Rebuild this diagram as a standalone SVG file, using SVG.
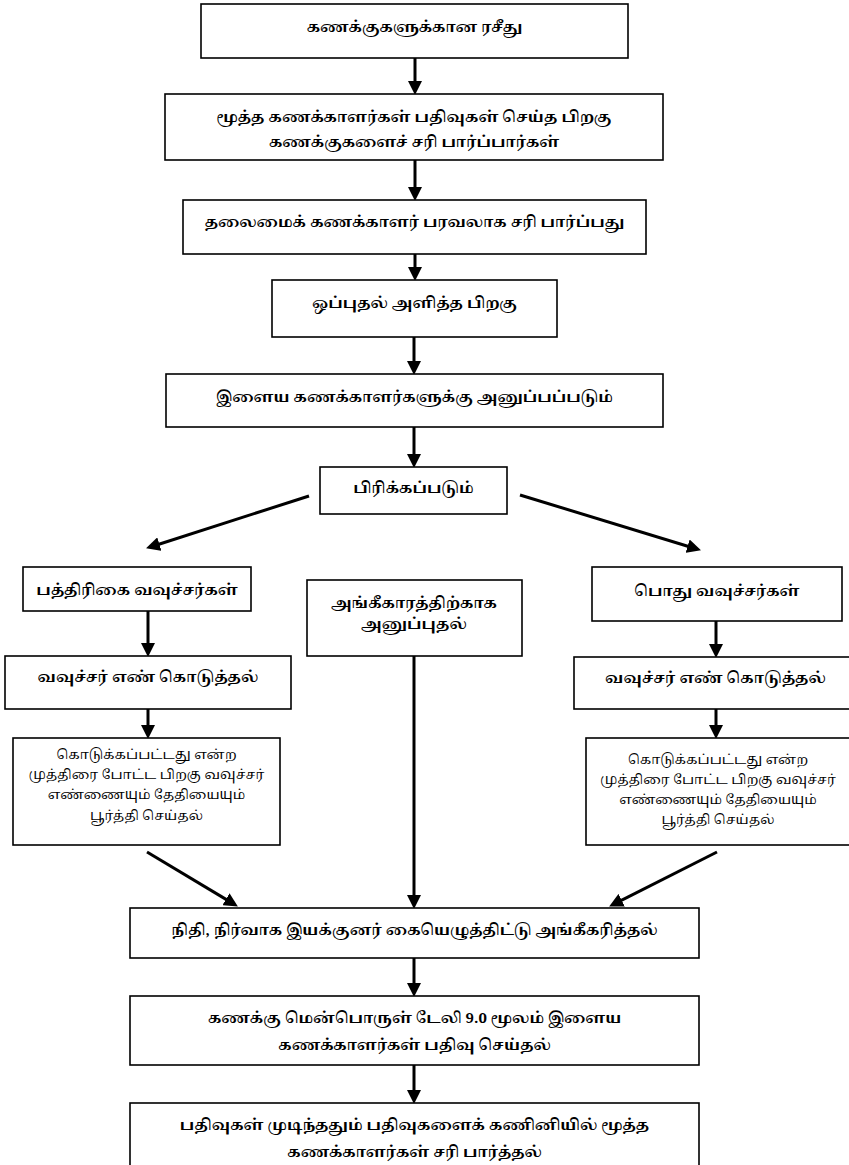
<svg xmlns="http://www.w3.org/2000/svg" width="849" height="1165" viewBox="0 0 849 1165">
<style>
.box{fill:#fff;stroke:#000;stroke-width:1.6}
.t{font-family:"Noto Serif Tamil","Noto Sans Tamil","Liberation Serif",serif;font-size:15px;font-weight:bold;fill:#000;text-anchor:middle}
.s{font-size:13.5px;font-weight:normal}
.c{stroke:#000;stroke-width:3;fill:none;marker-end:url(#ah)}
</style>
<defs>
<marker id="ah" markerUnits="userSpaceOnUse" markerWidth="14" markerHeight="14" refX="6" refY="6" orient="auto" viewBox="0 0 12 12">
<path d="M0,0 L12,6 L0,12 z" fill="#000"/>
</marker>
</defs>
<rect width="849" height="1165" fill="#fff"/>
<g id="connectors">
<line class="c" x1="415" y1="58" x2="415" y2="88"/>
<line class="c" x1="415" y1="160" x2="415" y2="194"/>
<line class="c" x1="415" y1="254" x2="415" y2="274"/>
<line class="c" x1="414" y1="337" x2="414" y2="368"/>
<line class="c" x1="414" y1="427" x2="414" y2="461"/>
<line class="c" x1="309" y1="496" x2="152.7" y2="546.2"/>
<line class="c" x1="520" y1="495" x2="694.3" y2="548.2"/>
<line class="c" x1="148" y1="611" x2="148" y2="650"/>
<line class="c" x1="148" y1="709" x2="148" y2="732"/>
<line class="c" x1="716" y1="621" x2="716" y2="651"/>
<line class="c" x1="716" y1="709" x2="716" y2="732"/>
<line class="c" x1="414" y1="656" x2="414" y2="902"/>
<line class="c" x1="147" y1="852" x2="231.9" y2="902.9"/>
<line class="c" x1="717" y1="852" x2="615.4" y2="903.3"/>
<line class="c" x1="414" y1="958" x2="414" y2="990"/>
<line class="c" x1="414" y1="1065" x2="414" y2="1097"/>
</g>
<g id="n1"><rect class="box" x="201" y="4" width="427" height="54"/><text class="t" x="414.5" y="32">கணக்குகளுக்கான ரசீது</text></g>
<g id="n2"><rect class="box" x="165" y="94" width="498" height="66"/><text class="t" x="414" y="122">மூத்த கணக்காளர்கள் பதிவுகள் செய்த பிறகு</text><text class="t" x="414" y="147">கணக்குகளைச் சரி பார்ப்பார்கள்</text></g>
<g id="n3"><rect class="box" x="183" y="200" width="463" height="54"/><text class="t" x="414.5" y="227">தலைமைக் கணக்காளர் பரவலாக சரி பார்ப்பது</text></g>
<g id="n4"><rect class="box" x="272" y="280" width="285" height="57"/><text class="t" x="414.5" y="308">ஒப்புதல் அளித்த பிறகு</text></g>
<g id="n5"><rect class="box" x="166" y="374" width="497" height="53"/><text class="t" x="414.5" y="402">இளைய கணக்காளர்களுக்கு அனுப்பப்படும்</text></g>
<g id="n6"><rect class="box" x="320" y="467" width="187" height="47"/><text class="t" x="413.5" y="493">பிரிக்கப்படும்</text></g>
<g id="n7"><rect class="box" x="23" y="567" width="228" height="44"/><text class="t" x="137" y="595">பத்திரிகை வவுச்சர்கள்</text></g>
<g id="n8"><rect class="box" x="307" y="580" width="215" height="76"/><text class="t" x="414" y="608">அங்கீகாரத்திற்காக</text><text class="t" x="414" y="629">அனுப்புதல்</text></g>
<g id="n9"><rect class="box" x="592" y="567" width="250" height="54"/><text class="t" x="717" y="596">பொது வவுச்சர்கள்</text></g>
<g id="n10"><rect class="box" x="5" y="656" width="286" height="53"/><text class="t" x="148" y="682">வவுச்சர் எண் கொடுத்தல்</text></g>
<g id="n11"><rect class="box" x="574" y="657" width="277" height="52"/><text class="t" x="715.5" y="683">வவுச்சர் எண் கொடுத்தல்</text></g>
<g id="n12"><rect class="box" x="13" y="738" width="267" height="107"/><text class="t s" x="146.5" y="759">கொடுக்கப்பட்டது என்ற</text><text class="t s" x="146.5" y="779">முத்திரை போட்ட பிறகு வவுச்சர்</text><text class="t s" x="146.5" y="799">எண்ணையும் தேதியையும்</text><text class="t s" x="146.5" y="820">பூர்த்தி செய்தல்</text></g>
<g id="n13"><rect class="box" x="586" y="738" width="265" height="107"/><text class="t s" x="718" y="764">கொடுக்கப்பட்டது என்ற</text><text class="t s" x="718" y="784">முத்திரை போட்ட பிறகு வவுச்சர்</text><text class="t s" x="718" y="804">எண்ணையும் தேதியையும்</text><text class="t s" x="718" y="824">பூர்த்தி செய்தல்</text></g>
<g id="n14"><rect class="box" x="130" y="908" width="569" height="50"/><text class="t" x="414.5" y="935">நிதி, நிர்வாக இயக்குனர் கையெழுத்திட்டு அங்கீகரித்தல்</text></g>
<g id="n15"><rect class="box" x="130" y="996" width="569" height="69"/><text class="t" x="414.5" y="1023">கணக்கு மென்பொருள் டேலி 9.0 மூலம் இளைய</text><text class="t" x="414.5" y="1050">கணக்காளர்கள் பதிவு செய்தல்</text></g>
<g id="n16"><rect class="box" x="130" y="1103" width="569" height="70"/><text class="t" x="414.5" y="1130">பதிவுகள் முடிந்ததும் பதிவுகளைக் கணினியில் மூத்த</text><text class="t" x="414.5" y="1157">கணக்காளர்கள் சரி பார்த்தல்</text></g>
</svg>
